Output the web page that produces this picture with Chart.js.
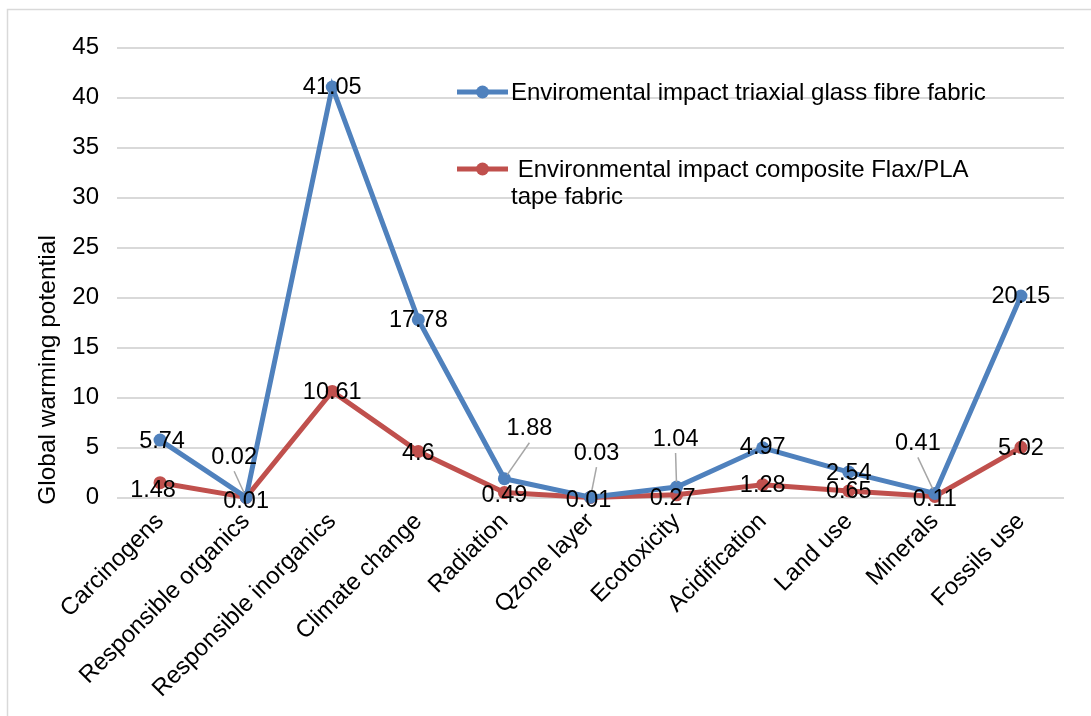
<!DOCTYPE html>
<html>
<head>
<meta charset="utf-8">
<script src="https://cdn.jsdelivr.net/npm/chart.js@4.4.1/dist/chart.umd.min.js"></script>
<style>
  html, body { margin: 0; padding: 0; background: #fff; }
  #wrap { width: 1091px; height: 716px; position: relative; }
</style>
</head>
<body>
<div id="wrap"><canvas id="c" width="1091" height="716"></canvas></div>
<script>
// ---- data ----
const categories = ["Carcinogens", "Responsible organics", "Responsible inorganics", "Climate change", "Radiation", "Qzone layer", "Ecotoxicity", "Acidification", "Land use", "Minerals", "Fossils use"];
const glassFibre = [5.74, 0.02, 41.05, 17.78, 1.88, 0.03, 1.04, 4.97, 2.54, 0.41, 20.15];
const flaxPla = [1.48, 0.01, 10.61, 4.6, 0.49, 0.01, 0.27, 1.28, 0.65, 0.11, 5.02];
const glassLabel = "Enviromental impact triaxial glass fibre fabric";
const flaxLabelLines = [" Environmental impact composite Flax/PLA", "tape fabric"];
const yTitle = "Global warming potential";
const yMin = 0, yMax = 45, yStep = 5;

// ---- styles (label placement offsets in px, relative to the point) ----
const FONT = '"Liberation Sans", Arial, sans-serif';
const BLUE = "#4F81BD", RED = "#C0504D";
const labelStyle = {
  0: { off: [[2,0],[-12,-41],[0,0],[0,0],[25,-51],[6,-45],[-1,-49],[0,-1],[0,0],[-17,-51],[0,0]],
       leader: [false,true,false,false,true,true,true,false,false,true,false] },
  1: { off: [[-7,7],[0,3],[0,0],[0,1],[0,2],[-2,2],[-4,3],[0,0],[0,0],[0,2],[0,0]],
       leader: [false,false,false,false,false,false,false,false,false,false,false] }
};

const decorPlugin = {
  id: 'decor',
  beforeDraw(chart) {
    const ctx = chart.ctx;
    ctx.save();
    ctx.strokeStyle = "#D9D9D9";
    ctx.lineWidth = 1.5;
    ctx.strokeRect(7.5, 9.5, 1100, 720);
    ctx.restore();
  },
  afterDatasetsDraw(chart) {
    const ctx = chart.ctx;
    ctx.save();
    // data labels
    ctx.font = '23.5px ' + FONT;
    ctx.textAlign = 'center';
    ctx.textBaseline = 'middle';
    chart.data.datasets.forEach((ds, di) => {
      const meta = chart.getDatasetMeta(di);
      meta.data.forEach((pt, i) => {
        const st = labelStyle[di];
        const lx = pt.x + st.off[i][0], ly = pt.y + st.off[i][1];
        if (st.leader[i]) {
          const sx = lx, sy = ly + 15;
          const dx = pt.x - sx, dy = pt.y - sy;
          const len = Math.hypot(dx, dy);
          const ex = pt.x - dx / len * 5, ey = pt.y - dy / len * 5;
          ctx.strokeStyle = "#A6A6A6";
          ctx.lineWidth = 1.5;
          ctx.beginPath(); ctx.moveTo(sx, sy); ctx.lineTo(ex, ey); ctx.stroke();
        }
        ctx.fillStyle = "#000";
        ctx.fillText(String(ds.data[i]), lx, ly + 1);
      });
    });
    // legend
    ctx.font = '24px ' + FONT;
    ctx.textAlign = 'left';
    const items = [
      { color: BLUE, y: 92, lines: [glassLabel] },
      { color: RED, y: 169, lines: flaxLabelLines }
    ];
    items.forEach(it => {
      ctx.strokeStyle = it.color; ctx.lineWidth = 5;
      ctx.beginPath(); ctx.moveTo(457, it.y); ctx.lineTo(508, it.y); ctx.stroke();
      ctx.fillStyle = it.color;
      ctx.beginPath(); ctx.arc(482.5, it.y, 6.5, 0, Math.PI * 2); ctx.fill();
      ctx.fillStyle = "#000";
      it.lines.forEach((t, k) => ctx.fillText(t, 511, it.y + 1 + k * 27.5));
    });
    // y title
    ctx.save();
    ctx.translate(48, 370);
    ctx.rotate(-Math.PI / 2);
    ctx.textAlign = 'center';
    ctx.font = '24.5px ' + FONT;
    ctx.fillText(yTitle, 0, 0);
    ctx.restore();
    ctx.restore();
  }
};

new Chart(document.getElementById('c'), {
  type: 'line',
  data: {
    labels: categories,
    datasets: [
      { label: glassLabel, data: glassFibre, borderColor: BLUE, backgroundColor: BLUE,
        borderWidth: 5, pointRadius: 6.5, pointBorderWidth: 0, pointBackgroundColor: BLUE, tension: 0, clip: false },
      { label: flaxLabelLines.join(' '), data: flaxPla, borderColor: RED, backgroundColor: RED,
        borderWidth: 5, pointRadius: 6.5, pointBorderWidth: 0, pointBackgroundColor: RED, tension: 0, clip: false }
    ]
  },
  options: {
    responsive: false,
    animation: false,
    devicePixelRatio: 1,
    layout: { padding: { top: 47.5, right: 27, left: 0, bottom: 0 } },
    plugins: { legend: { display: false }, tooltip: { enabled: false }, title: { display: false } },
    scales: {
      x: {
        offset: true,
        grid: { display: false, drawTicks: false },
        border: { display: false },
        ticks: { autoSkip: false, minRotation: 45, maxRotation: 45, padding: 10,
                 color: '#000', font: { family: FONT, size: 24 } },
        afterFit(s) { s.height = 218.5; }
      },
      y: {
        min: yMin, max: yMax,
        grid: { color: '#D9D9D9', lineWidth: 2, drawTicks: false },
        border: { display: false },
        ticks: { stepSize: yStep, padding: 18, color: '#000', font: { family: FONT, size: 24 } },
        afterFit(s) { s.width = 117; }
      }
    }
  },
  plugins: [decorPlugin]
});
</script>
</body>
</html>
